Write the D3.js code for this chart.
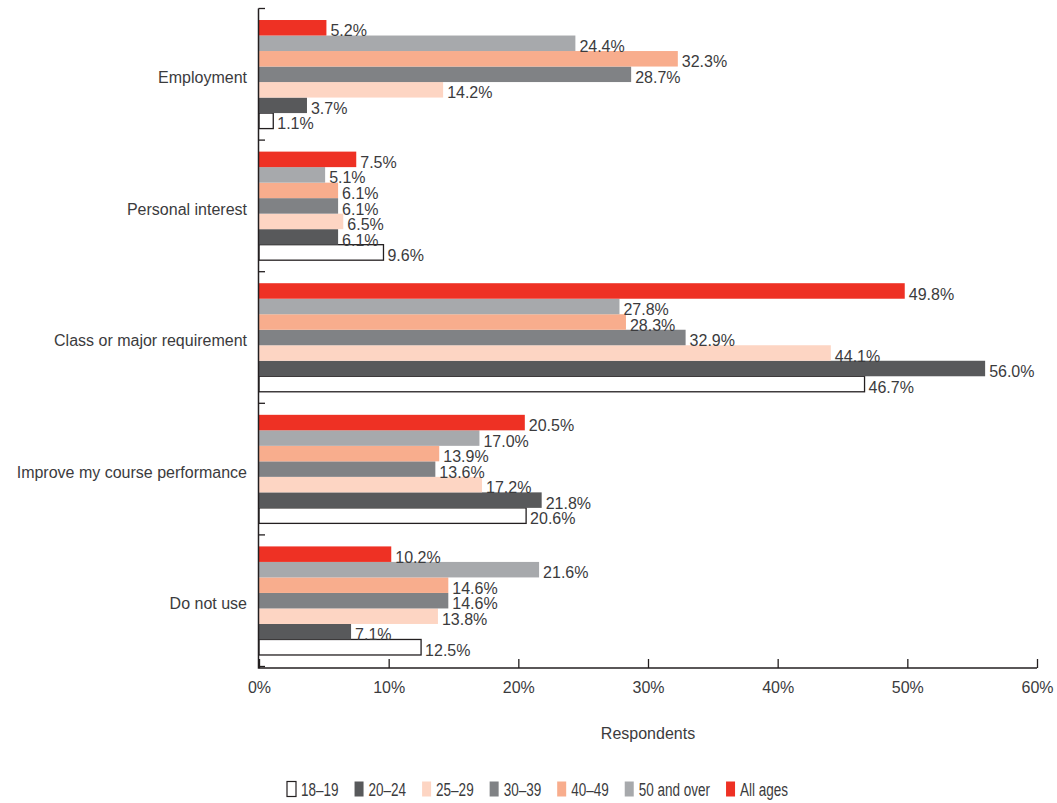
<!DOCTYPE html>
<html>
<head>
<meta charset="utf-8">
<script src="https://cdn.jsdelivr.net/npm/d3@7"></script>
<style>
  html, body { margin: 0; padding: 0; background: #fff; }
  svg { display: block; font-family: "Liberation Sans", Arial, sans-serif; }
</style>
</head>
<body>
<svg id="chart" width="1057" height="803"></svg>
<script>
// Reasons for use, by age group (percent of respondents)
const categories = ["Employment", "Personal interest", "Class or major requirement", "Improve my course performance", "Do not use"];
const ageGroups = ["18\u201319", "20\u201324", "25\u201329", "30\u201339", "40\u201349", "50 and over", "All ages"];

const age18to19  = [1.1, 9.6, 46.7, 20.6, 12.5];
const age20to24  = [3.7, 6.1, 56.0, 21.8, 7.1];
const age25to29  = [14.2, 6.5, 44.1, 17.2, 13.8];
const age30to39  = [28.7, 6.1, 32.9, 13.6, 14.6];
const age40to49  = [32.3, 6.1, 28.3, 13.9, 14.6];
const age50plus  = [24.4, 5.1, 27.8, 17.0, 21.6];
const allAges    = [5.2, 7.5, 49.8, 20.5, 10.2];

const xTicks = [0, 10, 20, 30, 40, 50, 60];

const seriesValues = [age18to19, age20to24, age25to29, age30to39, age40to49, age50plus, allAges];
const colors = ["#ffffff", "#58595b", "#fdd5c3", "#808285", "#f8ad8d", "#a7a9ac", "#ee3124"];

const svg = d3.select("#chart");
const plotLeft = 259, plotRight = 1037, plotTop = 8.5, plotBottom = 666.5;
const axisY = 668;

const x = d3.scaleLinear().domain([0, 60]).range([plotLeft, plotRight]);
const y = d3.scaleBand().domain(categories).range([plotTop, plotBottom])
  .paddingInner(0.175).paddingOuter(0.0875);
// within each group: All ages on top, 18–19 at the bottom
const yInner = d3.scaleBand().domain(ageGroups.slice().reverse()).range([0, y.bandwidth()]);

const rows = [];
categories.forEach((c, ci) => {
  ageGroups.forEach((g, gi) => {
    rows.push({ cat: c, group: g, value: seriesValues[gi][ci], color: colors[gi] });
  });
});

const textColor = "#231f20";

// bars
const bars = svg.append("g");
bars.selectAll("rect").data(rows).join("rect")
  .attr("x", x(0))
  .attr("y", d => y(d.cat) + yInner(d.group))
  .attr("width", d => x(d.value) - x(0))
  .attr("height", yInner.bandwidth())
  .attr("fill", d => d.color)
  .attr("stroke", d => d.group === ageGroups[0] ? textColor : "none")
  .attr("stroke-width", 1.3);

// value labels
svg.append("g").selectAll("text").data(rows).join("text")
  .attr("x", d => x(d.value) + 4)
  .attr("y", d => y(d.cat) + yInner(d.group) + yInner.bandwidth() / 2 + 3)
  .attr("dy", "0.35em")
  .attr("font-size", 16)
  .attr("fill", "#3b3b3d")
  .text(d => d.value.toFixed(1) + "%");

// x axis
const xAxis = d3.axisBottom(x).tickValues(xTicks).tickSize(-9).tickPadding(14)
  .tickFormat(d => d + "%");
const gx = svg.append("g").attr("transform", `translate(0,${axisY})`).call(xAxis);
gx.select(".domain").attr("stroke", textColor).attr("stroke-width", 1.5)
  .attr("d", `M${plotLeft},0H${plotRight}`);
gx.selectAll(".tick line").attr("stroke", textColor).attr("stroke-width", 1.3);
gx.selectAll(".tick text").attr("font-size", 16).attr("fill", "#3b3b3d")
  .attr("font-family", "Liberation Sans, Arial, sans-serif");

// y axis line and group boundary ticks
const boundaries = categories.map(c => y(c) - y.step() * y.paddingInner() / 2);
boundaries.push(plotBottom);
const gy = svg.append("g");
gy.append("line").attr("x1", plotLeft - 0.5).attr("x2", plotLeft - 0.5).attr("y1", plotTop).attr("y2", axisY + 0.7)
  .attr("stroke", textColor).attr("stroke-width", 1.5);
gy.selectAll("line.b").data(boundaries).join("line").attr("class", "b")
  .attr("x1", plotLeft - 0.5).attr("x2", plotLeft + 6).attr("y1", d => d).attr("y2", d => d)
  .attr("stroke", textColor).attr("stroke-width", 1.3);

// category labels
svg.append("g").selectAll("text").data(categories).join("text")
  .attr("x", 247)
  .attr("y", d => y(d) + y.bandwidth() / 2 + 3)
  .attr("dy", "0.35em")
  .attr("text-anchor", "end")
  .attr("font-size", 16)
  .attr("fill", "#3b3b3d")
  .text(d => d);

// axis title
svg.append("text").attr("x", 648).attr("y", 733).attr("dy", "0.35em")
  .attr("text-anchor", "middle").attr("font-size", 16).attr("fill", "#3b3b3d")
  .text("Respondents");

// legend, set in a condensed width
const legend = svg.append("g").attr("class", "legend");
let lx = 287;
const ly = 789;
const squeeze = 0.75;
ageGroups.forEach((g, i) => {
  legend.append("rect").attr("x", lx).attr("y", ly - 7.5).attr("width", 9).attr("height", 15)
    .attr("fill", colors[i])
    .attr("stroke", i === 0 ? textColor : "none").attr("stroke-width", 1.2);
  const t = legend.append("text").attr("x", lx + 14).attr("y", ly + 1).attr("dy", "0.35em")
    .attr("font-size", 18).attr("fill", "#3b3b3d").text(g);
  const w = t.node().getComputedTextLength() * squeeze;
  t.attr("textLength", w).attr("lengthAdjust", "spacingAndGlyphs");
  lx += 14 + w + 16;
});
</script>
</body>
</html>
